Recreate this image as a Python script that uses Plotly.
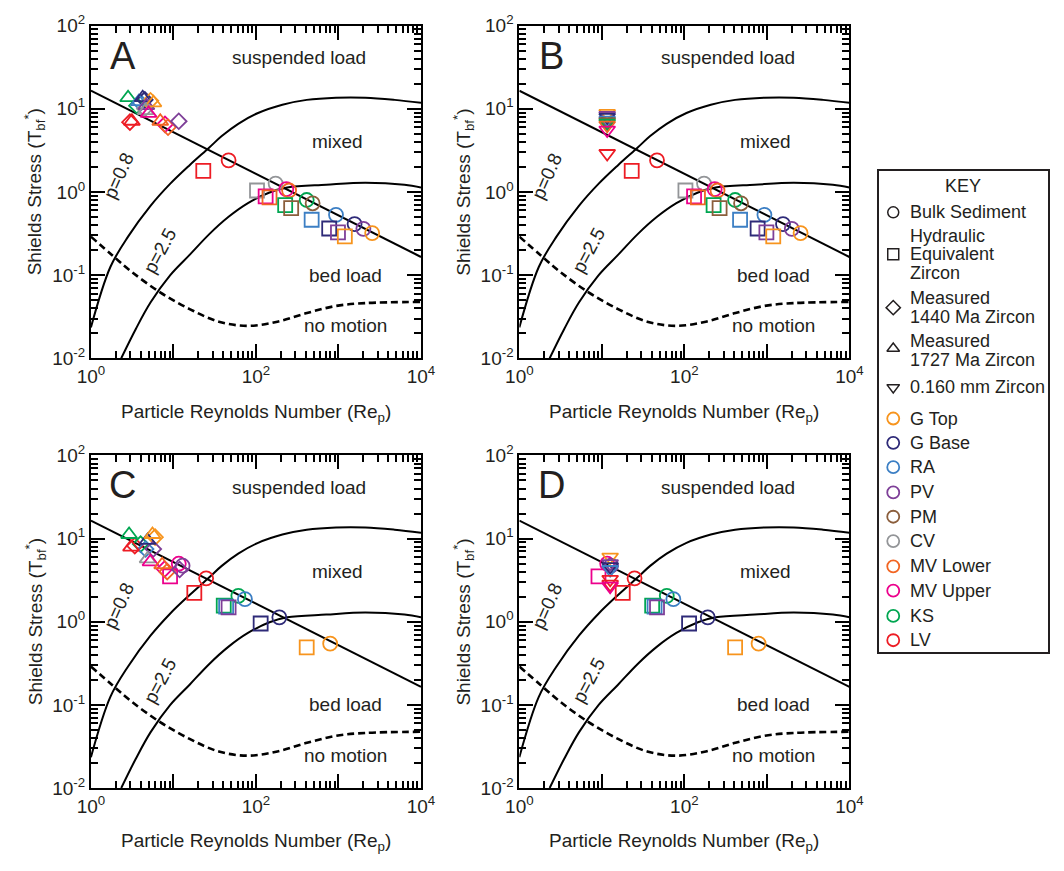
import plotly.graph_objects as go

FONT = "Liberation Sans, Arial, sans-serif"
INK = "#231F20"

# ---- transport-regime boundaries (Re_p, Shields stress) ----
line_re = [1, 10000]
line_tau = [16.5, 0.165]

p08_re = [1, 1.72, 2.82, 5.27, 9.1, 15.7, 27, 38.5, 61, 106, 209, 412, 933, 2115, 4790, 10000]
p08_tau = [0.0235, 0.125, 0.29, 0.68, 1.25, 2.1, 3.4, 4.7, 6.6, 8.9, 11.2, 12.8, 13.6, 13.6, 12.8, 11.8]

p25_re = [2.33, 3.5, 5.27, 9.1, 15.7, 27, 46.6, 80, 146, 239, 711, 2115, 6300, 10000]
p25_tau = [0.01, 0.0225, 0.0467, 0.0993, 0.175, 0.309, 0.502, 0.733, 0.986, 1.13, 1.22, 1.29, 1.22, 1.13]

nm_re = [1, 1.78, 3.06, 6.9, 15.7, 35.5, 80, 182, 416, 930, 2100, 10000]
nm_tau = [0.29, 0.176, 0.111, 0.062, 0.039, 0.0275, 0.0245, 0.0275, 0.035, 0.0425, 0.046, 0.0475]

# ---- sites ----
sites = ["G Top", "G Base", "RA", "PV", "PM", "CV", "MV Lower", "MV Upper", "KS", "LV"]
site_colors = ["#F7941D", "#2E2A78", "#3C7FC4", "#7E3F98", "#8B5E3C",
               "#939598", "#F26522", "#EC008C", "#00A651", "#ED1C24"]

# ---- panels A and B: bulk sediment and hydraulic-equivalent zircon ----
bulk_ab_site = ["LV", "CV", "MV Upper", "MV Lower", "KS", "PM", "RA", "G Base", "PV", "G Top"]
bulk_ab_re = [46.6, 173, 233, 252, 412, 486, 933, 1567, 2004, 2560]
bulk_ab_tau = [2.40, 1.26, 1.08, 1.04, 0.80, 0.73, 0.53, 0.41, 0.36, 0.32]

heq_ab_site = ["LV", "CV", "MV Upper", "MV Lower", "KS", "PM", "RA", "G Base", "PV", "G Top"]
heq_ab_re = [23, 103, 131, 146, 226, 267, 473, 772, 986, 1194]
heq_ab_tau = [1.79, 1.04, 0.885, 0.861, 0.695, 0.64, 0.463, 0.363, 0.326, 0.292]

# panel A: measured zircon populations
z1727_a_site = ["KS", "LV", "RA", "G Base", "PV", "G Top", "CV", "MV Upper", "MV Lower"]
z1727_a_re = [2.82, 3.14, 3.8, 4.24, 4.7, 5.72, 4.6, 4.99, 6.92]
z1727_a_tau = [13.6, 7.08, 12.2, 13.6, 10.9, 11.8, 9.5, 8.8, 7.08]

z1440_a_site = ["LV", "KS", "RA", "G Base", "G Top", "CV", "MV Upper", "MV Lower", "PV"]
z1440_a_re = [2.97, 3.6, 4.0, 4.5, 5.27, 4.5, 7.9, 8.6, 11.6]
z1440_a_tau = [6.9, 10.9, 11.8, 12.8, 12.5, 10.0, 6.5, 6.0, 7.08]

# panel B: 0.160 mm zircon
z160_b_site = ["G Top", "PV", "G Base", "RA", "PM", "KS", "MV Lower", "MV Upper", "LV"]
z160_b_re = [11.6, 11.6, 11.6, 11.6, 11.6, 11.6, 11.6, 11.6, 11.6]
z160_b_tau = [8.8, 8.3, 7.9, 7.3, 7.0, 6.7, 6.35, 5.55, 2.9]

# ---- panels C and D ----
bulk_cd_site = ["MV Upper", "PV", "LV", "KS", "RA", "G Base", "G Top"]
bulk_cd_re = [11.6, 12.9, 24.9, 61.2, 73.5, 192, 793]
bulk_cd_tau = [4.99, 4.72, 3.33, 2.05, 1.87, 1.13, 0.545]

heq_cd_site = ["MV Upper", "LV", "KS", "RA", "PV", "G Base", "G Top"]
heq_cd_re = [9.1, 17.9, 40.7, 43.5, 46.6, 114, 412]
heq_cd_tau = [3.51, 2.22, 1.56, 1.52, 1.49, 0.953, 0.493]

z1727_c_site = ["KS", "LV", "G Base", "G Top", "CV", "MV Upper", "MV Lower"]
z1727_c_re = [2.9, 3.06, 4.86, 5.57, 4.86, 5.27, 7.3]
z1727_c_tau = [11.2, 7.9, 9.5, 11.2, 5.7, 5.26, 4.85]

z1440_c_site = ["LV", "KS", "RA", "G Top", "PV", "MV Upper", "MV Lower", "PV"]
z1440_c_re = [3.4, 4.0, 4.6, 6.0, 5.7, 7.8, 8.4, 11.9]
z1440_c_tau = [8.2, 8.6, 7.5, 10.4, 7.5, 4.3, 4.0, 4.25]

z160_d_site = ["G Top", "PV", "G Base", "RA", "LV", "LV", "MV Upper"]
z160_d_re = [12.6, 12.6, 12.6, 12.6, 12.6, 12.6, 12.6]
z160_d_tau = [6.0, 5.0, 4.6, 4.25, 3.24, 2.83, 2.68]

color_of = dict(zip(sites, site_colors))

x_major = [1, 10, 100, 1000, 10000]
x_major_text = ["10<sup>0</sup>", "", "10<sup>2</sup>", "", "10<sup>4</sup>"]
y_major = [0.01, 0.1, 1, 10, 100]
y_major_text = ["10<sup>-2</sup>", "10<sup>-1</sup>", "10<sup>0</sup>", "10<sup>1</sup>", "10<sup>2</sup>"]
x_minor = [k * 10 ** d for d in range(0, 4) for k in range(2, 10)]
y_minor = [k * 10 ** d for d in range(-2, 2) for k in range(2, 10)]

W, H = 1064, 871
col_px = [(79, 418), (519, 858)]
row_px = [(13, 355), (455, 797)]

fig = go.Figure()

panels = [
    ("A", 0, 0, [("circle-open", bulk_ab_site, bulk_ab_re, bulk_ab_tau),
                 ("square-open", heq_ab_site, heq_ab_re, heq_ab_tau),
                 ("diamond-open", z1440_a_site, z1440_a_re, z1440_a_tau),
                 ("triangle-up-open", z1727_a_site, z1727_a_re, z1727_a_tau)]),
    ("B", 1, 0, [("circle-open", bulk_ab_site, bulk_ab_re, bulk_ab_tau),
                 ("square-open", heq_ab_site, heq_ab_re, heq_ab_tau),
                 ("triangle-down-open", z160_b_site, z160_b_re, z160_b_tau)]),
    ("C", 0, 1, [("circle-open", bulk_cd_site, bulk_cd_re, bulk_cd_tau),
                 ("square-open", heq_cd_site, heq_cd_re, heq_cd_tau),
                 ("diamond-open", z1440_c_site, z1440_c_re, z1440_c_tau),
                 ("triangle-up-open", z1727_c_site, z1727_c_re, z1727_c_tau)]),
    ("D", 1, 1, [("circle-open", bulk_cd_site, bulk_cd_re, bulk_cd_tau),
                 ("square-open", heq_cd_site, heq_cd_re, heq_cd_tau),
                 ("triangle-down-open", z160_d_site, z160_d_re, z160_d_tau)]),
]

layout_axes = {}
annotations = []

for i, (label, col, row, groups) in enumerate(panels):
    n = i + 1
    xa = "x" if n == 1 else f"x{n}"
    ya = "y" if n == 1 else f"y{n}"
    x0, x1 = col_px[col]
    y0, y1 = row_px[row]
    common = dict(type="log", showline=True, linewidth=2, linecolor="black", mirror="ticks",
                  ticks="inside", ticklen=14, tickwidth=2, tickcolor="black",
                  showgrid=False, zeroline=False,
                  tickfont=dict(family=FONT, size=19, color=INK))
    layout_axes["xaxis" if n == 1 else f"xaxis{n}"] = dict(
        common, domain=[x0 / W, x1 / W], range=[0, 4], anchor=ya,
        tickmode="array", tickvals=x_major, ticktext=x_major_text,
        minor=dict(ticks="inside", ticklen=7, tickwidth=1.6, tickcolor="black", tickvals=x_minor))
    layout_axes["yaxis" if n == 1 else f"yaxis{n}"] = dict(
        common, domain=[1 - y1 / H, 1 - y0 / H], range=[-2, 2], anchor=xa,
        tickmode="array", tickvals=y_major, ticktext=y_major_text,
        minor=dict(ticks="inside", ticklen=7, tickwidth=1.6, tickcolor="black", tickvals=y_minor))

    for xs, ys, dash, lw in [(line_re, line_tau, "solid", 2), (p08_re, p08_tau, "solid", 2),
                             (p25_re, p25_tau, "solid", 2), (nm_re, nm_tau, "7px,4px", 2.6)]:
        fig.add_trace(go.Scatter(x=xs, y=ys, mode="lines", xaxis=xa, yaxis=ya,
                                 line=dict(color="black", width=lw, dash=dash, shape="spline",
                                           smoothing=1.0),
                                 showlegend=False, hoverinfo="skip"))

    for symbol, s_site, s_re, s_tau in groups:
        fig.add_trace(go.Scatter(
            x=s_re, y=s_tau, mode="markers", xaxis=xa, yaxis=ya, showlegend=False,
            marker=dict(symbol=symbol, size=14 if "diamond" not in symbol else 12,
                        color=[color_of[s] for s in s_site], line=dict(width=1.8))))

    dx = f"{xa} domain"
    dy = f"{ya} domain"
    texts = [
        (label, 0.097, 0.91, 38, 0),
        ("suspended load", 0.631, 0.903, 19, 0),
        ("mixed", 0.746, 0.651, 19, 0),
        ("bed load", 0.77, 0.25, 19, 0),
        ("no motion", 0.77, 0.097, 19, 0),
        ("p=0.8", 0.085, 0.548, 19, -66),
        ("p=2.5", 0.21, 0.323, 19, -62),
    ]
    for t, fx, fy, fs, ang in texts:
        annotations.append(dict(text=t, x=fx, y=fy, xref=dx, yref=dy, showarrow=False,
                                textangle=ang, xanchor="center", yanchor="middle",
                                font=dict(family=FONT, size=fs, color=INK)))

    # axis titles
    annotations.append(dict(text="Particle Reynolds Number (Re<sub>p</sub>)",
                            x=(x0 + x1) / 2 / W, y=1 - (y1 + 56) / H, xref="paper", yref="paper",
                            showarrow=False, xanchor="center", yanchor="middle",
                            font=dict(family=FONT, size=19, color=INK)))
    annotations.append(dict(text="Shields Stress (T<sub>bf</sub><sup>*</sup>)",
                            x=(x0 - 57) / W, y=1 - (y0 + 171) / H, xref="paper", yref="paper",
                            showarrow=False, textangle=-90, xanchor="center", yanchor="middle",
                            font=dict(family=FONT, size=19, color=INK)))

# ---- key ----
key_x0, key_x1, key_y0, key_y1 = 888, 1062, 162, 657
layout_axes["xaxis5"] = dict(domain=[key_x0 / W, key_x1 / W], range=[key_x0, key_x1], anchor="y5",
                             showline=True, linewidth=1.5, linecolor=INK, mirror=True,
                             showticklabels=False, ticks="", showgrid=False, zeroline=False)
layout_axes["yaxis5"] = dict(domain=[1 - key_y1 / H, 1 - key_y0 / H], range=[key_y1, key_y0],
                             anchor="x5", showline=True, linewidth=1.5, linecolor=INK, mirror=True,
                             showticklabels=False, ticks="", showgrid=False, zeroline=False)

key_symbols = ["circle-open", "square-open", "diamond-open", "triangle-up-open", "triangle-down-open"]
key_symbol_rows = [205, 248, 303, 345, 385]
key_symbol_text = [["Bulk Sediment"], ["Hydraulic", "Equivalent", "Zircon"],
                   ["Measured", "1440 Ma Zircon"], ["Measured", "1727 Ma Zircon"],
                   ["0.160 mm Zircon"]]
key_text_rows = [[205], [229, 248, 267], [293, 313], [337, 357], [385]]
key_site_rows = [417, 442, 467, 493, 518, 543, 569, 594, 620, 645]
marker_x, text_x = 903, 918

fig.add_trace(go.Scatter(x=[marker_x] * len(key_symbols), y=key_symbol_rows, mode="markers",
                         xaxis="x5", yaxis="y5", showlegend=False, hoverinfo="skip",
                         marker=dict(symbol=key_symbols, size=11, color=INK, line=dict(width=1.5))))
fig.add_trace(go.Scatter(x=[marker_x] * len(sites), y=key_site_rows, mode="markers",
                         xaxis="x5", yaxis="y5", showlegend=False, hoverinfo="skip",
                         marker=dict(symbol="circle-open", size=12, color=site_colors,
                                     line=dict(width=1.8))))

annotations.append(dict(text="KEY", x=(key_x0 + key_x1) / 2, y=178, xref="x5", yref="y5",
                        showarrow=False, xanchor="center", yanchor="middle",
                        font=dict(family=FONT, size=18, color=INK)))
for lines, rows in zip(key_symbol_text, key_text_rows):
    for t, yy in zip(lines, rows):
        annotations.append(dict(text=t, x=text_x, y=yy, xref="x5", yref="y5", showarrow=False,
                                xanchor="left", yanchor="middle",
                                font=dict(family=FONT, size=18, color=INK)))
for t, yy in zip(sites, key_site_rows):
    annotations.append(dict(text=t, x=text_x, y=yy, xref="x5", yref="y5", showarrow=False,
                            xanchor="left", yanchor="middle",
                            font=dict(family=FONT, size=18, color=INK)))

fig.update_layout(width=W, height=H, margin=dict(l=0, r=0, t=0, b=0),
                  paper_bgcolor="white", plot_bgcolor="white",
                  showlegend=False, annotations=annotations, **layout_axes)

fig.write_html("out.html")
